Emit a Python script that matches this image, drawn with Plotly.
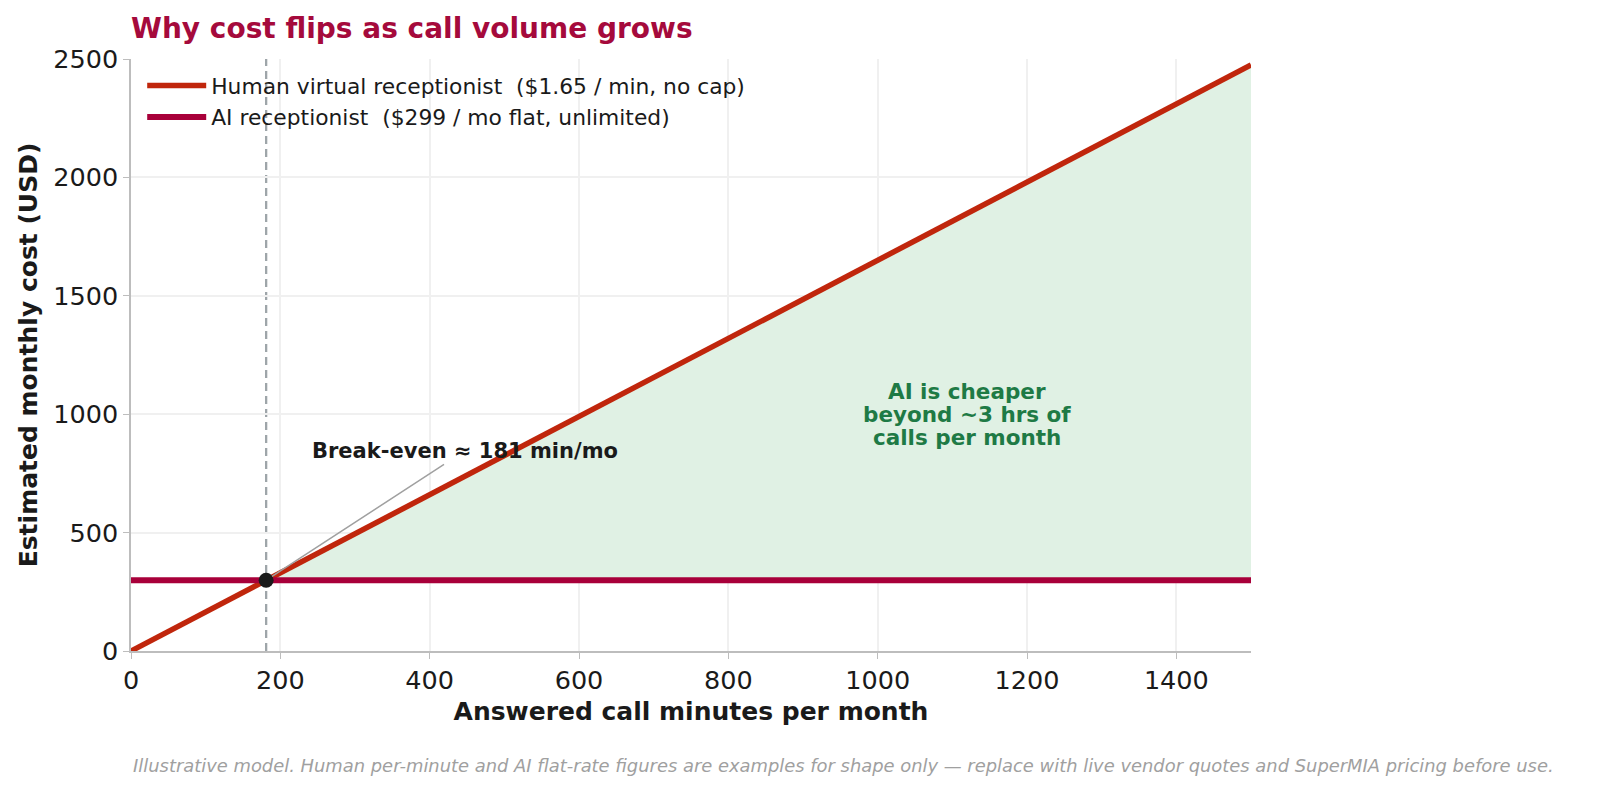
import plotly.graph_objects as go

# values
minutes = [0, 1500]
human_cost = [0, 2475]          # $1.65 / min
ai_cost = [299, 299]            # flat $299 / mo
break_even_min = 181
break_even_cost = 299
fill_x = [181, 1500]
fill_upper = [299, 2475]
fill_lower = [299, 299]

x_ticks = [0, 200, 400, 600, 800, 1000, 1200, 1400]
y_ticks = [0, 500, 1000, 1500, 2000, 2500]

callout_lines = ["AI is cheaper", "beyond ~3 hrs of", "calls per month"]

font = "DejaVu Sans"
human_col = "#c0260c"
ai_col = "#a8003a"
green = "#1e7a45"

W, H = 1598, 804

fig = go.Figure()

# shaded region where AI is cheaper
fig.add_trace(go.Scatter(x=fill_x, y=fill_lower, mode="lines",
                         line=dict(width=0), showlegend=False, hoverinfo="skip"))
fig.add_trace(go.Scatter(x=fill_x, y=fill_upper, mode="lines", fill="tonexty",
                         fillcolor="#e0f1e4", line=dict(width=0),
                         showlegend=False, hoverinfo="skip"))

fig.add_trace(go.Scatter(x=minutes, y=human_cost, mode="lines",
                         line=dict(color=human_col, width=5.5),
                         name="Human virtual receptionist  ($1.65 / min, no cap)"))
fig.add_trace(go.Scatter(x=minutes, y=ai_cost, mode="lines",
                         line=dict(color=ai_col, width=6),
                         name="AI receptionist  ($299 / mo flat, unlimited)"))

fig.add_vline(x=break_even_min, layer="below",
              line=dict(color="#9ea5a9", width=2.3, dash="8px,5px"))

fig.add_trace(go.Scatter(x=[break_even_min], y=[break_even_cost], mode="markers",
                         marker=dict(color="#1a1a1a", size=15, line=dict(width=0)),
                         showlegend=False))

fig.add_annotation(x=break_even_min, y=break_even_cost, ax=447, ay=845,
                   axref="x", ayref="y", text="<b>Break-even ≈ 181 min/mo</b>",
                   showarrow=True, arrowhead=0, arrowwidth=1.5, arrowcolor="#a0a0a0",
                   standoff=7, font=dict(family=font, size=21, color="#1a1a1a"))

# three lines of the green callout, tighter spacing than plotly's <br>
for i, line in enumerate(callout_lines):
    fig.add_annotation(x=1120, y=1000, yshift=23 * (1 - i), text="<b>%s</b>" % line,
                       showarrow=False, font=dict(family=font, size=21.5, color=green))

fig.add_annotation(xref="paper", yref="paper", x=0, y=-0.193, xanchor="left", yanchor="middle",
                   text="<i>Illustrative model. Human per-minute and AI flat-rate figures are examples for shape only — replace with live vendor quotes and SuperMIA pricing before use.</i>",
                   showarrow=False, font=dict(family=font, size=17.9, color="#a0a0a0"))

fig.update_layout(
    width=W, height=H,
    margin=dict(l=131, r=347, t=59, b=H - 651),
    paper_bgcolor="white", plot_bgcolor="white",
    font=dict(family=font, color="#1a1a1a"),
    title=dict(text="<b>Why cost flips as call volume grows</b>", x=131 / W, xanchor="left",
               y=1 - 28 / H, yanchor="middle",
               font=dict(family=font, size=28, color="#a50a3c")),
    legend=dict(x=0.01, y=0.99, xanchor="left", yanchor="top", bgcolor="rgba(0,0,0,0)",
                traceorder="normal", itemwidth=59,
                font=dict(family=font, size=21.8, color="#1a1a1a")),
    showlegend=True,
)

fig.update_xaxes(range=[0, 1500], tickvals=x_ticks, showgrid=True, gridcolor="#f0f0f0",
                 gridwidth=1.5, showline=True, linecolor="#bdbdbd", linewidth=1.5,
                 ticks="outside", ticklen=6, tickcolor="#bdbdbd", zeroline=False,
                 tickfont=dict(family=font, size=25.5, color="#1a1a1a"),
                 title=dict(text="<b>Answered call minutes per month</b>", standoff=8,
                            font=dict(family=font, size=25, color="#1a1a1a")))
fig.update_yaxes(range=[0, 2500], tickvals=y_ticks, showgrid=True, gridcolor="#f0f0f0",
                 gridwidth=1.5, showline=True, linecolor="#bdbdbd", linewidth=1.5,
                 ticks="outside", ticklen=6, tickcolor="#bdbdbd", zeroline=False,
                 tickfont=dict(family=font, size=25.5, color="#1a1a1a"),
                 title=dict(text="<b>Estimated monthly cost (USD)</b>", standoff=8,
                            font=dict(family=font, size=25, color="#1a1a1a")))

fig.write_html("out.html", post_script="document.body.style.margin='0';",
               config={"displayModeBar": False})
